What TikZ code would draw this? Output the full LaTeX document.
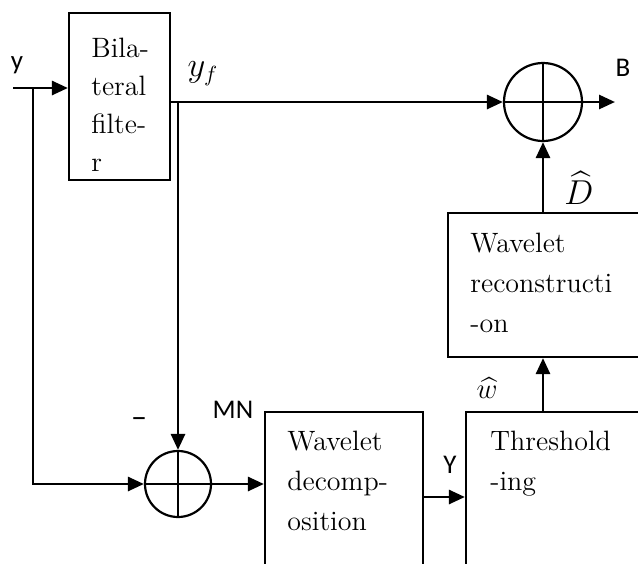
\documentclass[tikz,border=0pt]{standalone}
\usepackage{amsmath}
\usepackage{fontspec}
\newfontfamily\labfont{Carlito}
\usetikzlibrary{arrows.meta, positioning}

\begin{document}
\begin{tikzpicture}[x=0.5pt, y=-0.5pt, >={Triangle[length=8pt,width=7pt]}]
\tikzstyle{block} = [rectangle, draw, line width=1.1pt, inner sep=0pt]
\tikzstyle{blocktext} = [anchor=north west, inner sep=0pt, align=left, font=\fontsize{14}{20}\selectfont]
\tikzstyle{sum} = [circle, draw, line width=1.1pt, inner sep=0pt, path picture={\draw[line width=1.1pt] (path picture bounding box.north) -- (path picture bounding box.south) (path picture bounding box.west) -- (path picture bounding box.east);}]
\tikzstyle{line} = [draw, ->, line width=1.4pt]
\tikzstyle{lab} = [inner sep=0pt, font=\labfont\fontsize{13.5}{15}\selectfont]
\tikzstyle{mathlab} = [inner sep=0pt, font=\fontsize{16}{18}\selectfont]

\useasboundingbox (0,0) rectangle (638,563);
\clip (0,0) rectangle (638,563);

\node [block, minimum width=50.5pt, minimum height=83.5pt] (bil) at (119.5,96.5) {};
\node [blocktext, font=\fontsize{14}{19}\selectfont] (biltxt) at (91,38) {Bila-\\teral\\filte-\\r};
\node [block, minimum width=126pt, minimum height=72pt] (recon) at (574,285) {};
\node [blocktext] (recontxt) at (470,233) {Wavelet\\reconstructi\\-on};
\node [block, minimum width=79pt, minimum height=114pt] (decomp) at (344,526) {};
\node [blocktext] (decomptxt) at (287,431) {Wavelet\\decomp-\\osition};
\node [block, minimum width=117pt, minimum height=114pt] (thr) at (583,526) {};
\node [blocktext] (thrtxt) at (490,431) {Threshold\\-ing};

\node [sum, minimum size=39pt] (sum2) at (543,102) {};
\node [sum, minimum size=33pt] (sum1) at (178,484) {};

\coordinate (yin) at (13,88);
\coordinate (split) at (33,88);
\coordinate (tap) at (178,102);
\coordinate (out) at (615,102);

\path [line] (yin) -- (yin -| bil.west);
\path [line] (split) |- (sum1.west);
\path [line] (bil.east |- sum2) -- (sum2.west);
\path [line] (tap) -- (sum1.north);
\path [line] (sum1.east) -- (sum1 -| decomp.west);
\path [line] ([yshift=14.5pt]decomp.east) -- ([yshift=14.5pt]decomp.east -| thr.west);
\path [line] (sum2 |- thr.north) -- (sum2 |- recon.south);
\path [line] (sum2 |- recon.north) -- (sum2.south);
\path [line] (sum2.east) -- (out);

\node [lab] (ylab) at (17,65) {y};
\node [mathlab] (yf) at (203,74) {$y_f$};
\node [lab] (blab) at (623,68) {B};
\node [mathlab] (dhat) at (579,188) {$\widehat{D}$};
\node [mathlab, font=\fontsize{14}{16}\selectfont] (what) at (487,388) {$\widehat{w}$};
\node [lab, font=\labfont\fontsize{16}{18}\selectfont] (minus) at (139,423) {–};
\node [lab] (mn) at (233,410) {MN};
\node [lab] (ylab2) at (450,465) {Y};
\end{tikzpicture}
\end{document}
